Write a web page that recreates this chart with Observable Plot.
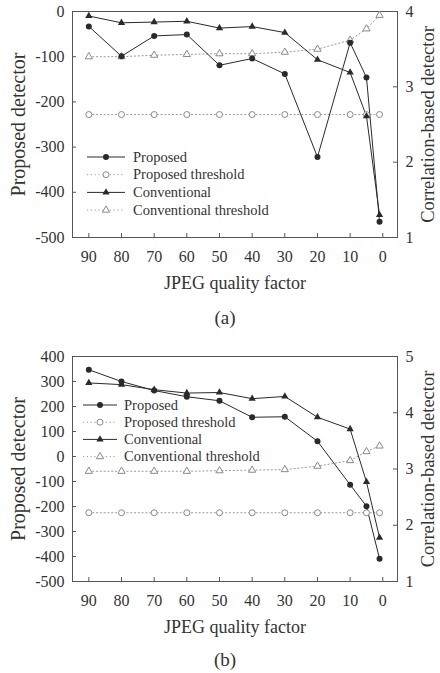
<!DOCTYPE html>
<html>
<head>
<meta charset="utf-8">
<script src="https://cdn.jsdelivr.net/npm/d3@7"></script>
<script src="https://cdn.jsdelivr.net/npm/@observablehq/plot@0.6"></script>
<style>
  html, body { margin: 0; padding: 0; background: white; }
  #chart svg { display: block; }
  #chart svg, #chart svg text { font-family: "Liberation Serif", "DejaVu Serif", serif !important; }
</style>
</head>
<body>
<div id="chart"></div>
<script>
// ---------- data ----------
const quality = [90, 80, 70, 60, 50, 40, 30, 20, 10, 5, 1];
const xTicks = [90, 80, 70, 60, 50, 40, 30, 20, 10, 0];
const seriesNames = ["Proposed", "Proposed threshold", "Conventional", "Conventional threshold"];

// panel (a)
const aProposed = [-33, -99, -54, -51, -119, -104, -138, -322, -69, -146, -465];
const aProposedThreshold = [-228, -228, -228, -228, -228, -228, -228, -228, -228, -228, -228];
const aConventional = [3.94, 3.85, 3.86, 3.87, 3.78, 3.80, 3.72, 3.36, 3.19, 2.61, 1.30];
const aConventionalThreshold = [3.40, 3.40, 3.42, 3.43, 3.44, 3.44, 3.46, 3.50, 3.62, 3.77, 3.95];
const aLeftTicks = [0, -100, -200, -300, -400, -500];
const aRightTicks = [1, 2, 3, 4];

// panel (b)
const bProposed = [347, 300, 264, 239, 223, 157, 159, 61, -113, -199, -409];
const bProposedThreshold = [-225, -225, -225, -225, -225, -225, -225, -225, -225, -225, -225];
const bConventional = [4.53, 4.50, 4.41, 4.35, 4.36, 4.25, 4.29, 3.92, 3.71, 2.77, 1.78];
const bConventionalThreshold = [2.96, 2.96, 2.96, 2.96, 2.97, 2.98, 2.99, 3.05, 3.15, 3.31, 3.41];
const bLeftTicks = [400, 300, 200, 100, 0, -100, -200, -300, -400, -500];
const bRightTicks = [1, 2, 3, 4, 5];

// ---------- drawing ----------
const W = 440, ML = 72, MR = 43;
const dark = "#2a2a2a", gray = "#8a8a8a", axisGray = "#555";
const triR = 2.7, dotR = 3.0;

function panel(o) {
  const plotW = W - ML - MR;
  const plotH = o.height - o.marginTop - o.marginBottom;
  const leftDomain = [d3.min(o.leftTicks), d3.max(o.leftTicks)];
  const rightDomain = [d3.min(o.rightTicks), d3.max(o.rightTicks)];
  const toLeft = d3.scaleLinear(rightDomain, leftDomain);
  const rows = quality.map((q, i) => ({
    q, p: o.proposed[i], pt: o.proposedThr[i],
    c: toLeft(o.conventional[i]), ct: toLeft(o.conventionalThr[i])
  }));
  const dotted = {stroke: "#9a9a9a", strokeWidth: 1, strokeDasharray: "1.2,2.6"};

  const svg = Plot.plot({
    width: W, height: o.height,
    marginLeft: ML, marginRight: MR, marginTop: o.marginTop, marginBottom: o.marginBottom,
    style: {fontFamily: "Liberation Serif, DejaVu Serif, serif", fontSize: "16px", color: "#333", background: "white"},
    x: {domain: [95, -4.5]},
    y: {domain: leftDomain},
    marks: [
      Plot.frame({stroke: axisGray, strokeWidth: 1}),
      Plot.axisY(o.leftTicks, {anchor: "left", tickSize: 0, tickPadding: 8, label: null, fontSize: 16, tickFormat: d => String(d)}),
      Plot.tickY(o.leftTicks, {y: d => d, insetRight: plotW - 4, stroke: axisGray}),
      Plot.axisY(o.rightTicks.map(toLeft), {anchor: "right", tickSize: 0, tickPadding: 8, label: null, fontSize: 16, tickFormat: d => String(Math.round(toLeft.invert(d)))}),
      Plot.tickY(o.rightTicks.map(toLeft), {y: d => d, insetLeft: plotW - 4, stroke: axisGray}),
      Plot.axisX(xTicks, {anchor: "bottom", tickSize: 0, tickPadding: 13, label: null, fontSize: 16, tickFormat: d => String(d)}),
      Plot.tickX(xTicks, {x: d => d, insetTop: plotH - 4, stroke: axisGray}),
      Plot.line(rows, {x: "q", y: "pt", ...dotted}),
      Plot.line(rows, {x: "q", y: "ct", ...dotted}),
      Plot.line(rows, {x: "q", y: "p", stroke: dark, strokeWidth: 1}),
      Plot.line(rows, {x: "q", y: "c", stroke: dark, strokeWidth: 1}),
      Plot.dot(rows, {x: "q", y: "pt", r: dotR, fill: "white", stroke: gray, strokeWidth: 1}),
      Plot.dot(rows, {x: "q", y: "ct", r: triR, symbol: "triangle", fill: "white", stroke: gray, strokeWidth: 1}),
      Plot.dot(rows, {x: "q", y: "p", r: dotR, fill: dark, stroke: "none"}),
      Plot.dot(rows, {x: "q", y: "c", r: triR, symbol: "triangle", fill: dark, stroke: "none"}),
      Plot.text(["Proposed detector"], {text: d => d, frameAnchor: "left", dx: -54, rotate: -90, fontSize: 20, textAnchor: "middle", lineAnchor: "middle"}),
      Plot.text(["Correlation-based detector"], {text: d => d, frameAnchor: "right", dx: 31, rotate: -90, fontSize: 18.5, textAnchor: "middle", lineAnchor: "middle"}),
      Plot.text(["JPEG quality factor"], {text: d => d, frameAnchor: "bottom", dy: 46, fontSize: 18, textAnchor: "middle", lineAnchor: "middle"}),
      Plot.text([o.caption], {text: d => d, frameAnchor: "bottom", dy: o.captionDy, dx: -10, fontSize: 19, textAnchor: "middle", lineAnchor: "middle"})
    ]
  });

  // legend
  const g = d3.select(svg).append("g")
    .attr("font-size", 14.5).attr("fill", "#333").attr("text-anchor", "start");
  seriesNames.forEach((name, i) => {
    const y = o.legend.y0 + i * o.legend.dy;
    const thr = i % 2 === 1;
    const row = g.append("g").attr("transform", `translate(0,${y})`);
    row.append("line").attr("x1", o.legend.x1).attr("x2", o.legend.x2).attr("y1", 0).attr("y2", 0)
      .attr("stroke", thr ? "#9a9a9a" : dark).attr("stroke-width", 1)
      .attr("stroke-dasharray", thr ? "1.2,2.6" : null);
    const tri = i >= 2;
    const r = tri ? triR : dotR;
    row.append("path")
      .attr("transform", `translate(${(o.legend.x1 + o.legend.x2) / 2},0)`)
      .attr("d", d3.symbol(tri ? d3.symbolTriangle : d3.symbolCircle, r * r * Math.PI)())
      .attr("fill", thr ? "white" : dark).attr("stroke", thr ? gray : "none");
    row.append("text").attr("x", o.legend.tx).attr("y", 0).attr("dy", "0.32em")
      .attr("text-anchor", "start").text(name);
  });
  return svg;
}

const chart = document.getElementById("chart");
chart.appendChild(panel({
  height: 340, marginTop: 11, marginBottom: 103,
  leftTicks: aLeftTicks, rightTicks: aRightTicks,
  proposed: aProposed, proposedThr: aProposedThreshold,
  conventional: aConventional, conventionalThr: aConventionalThreshold,
  caption: "(a)", captionDy: 80,
  legend: {x1: 87, x2: 125, tx: 133, y0: 157, dy: 17.7}
}));
chart.appendChild(panel({
  height: 333, marginTop: 16, marginBottom: 92,
  leftTicks: bLeftTicks, rightTicks: bRightTicks,
  proposed: bProposed, proposedThr: bProposedThreshold,
  conventional: bConventional, conventionalThr: bConventionalThreshold,
  caption: "(b)", captionDy: 78,
  legend: {x1: 83, x2: 117, tx: 124, y0: 65, dy: 17.2}
}));
</script>
</body>
</html>
